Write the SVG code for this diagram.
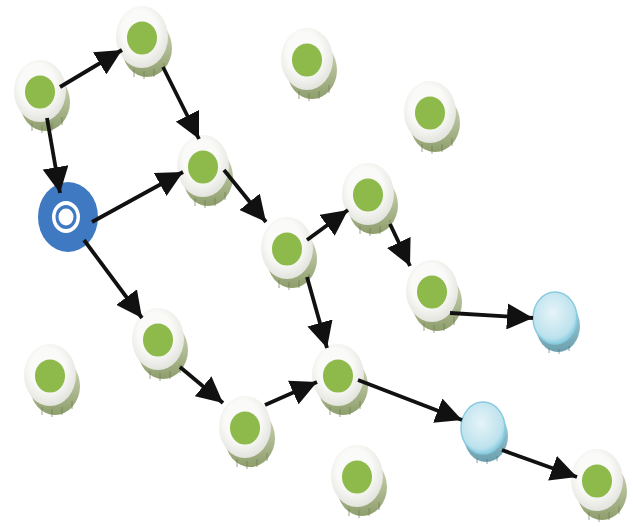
<svg xmlns="http://www.w3.org/2000/svg" xmlns:xlink="http://www.w3.org/1999/xlink" width="633" height="527" viewBox="0 0 633 527">
  <style>
    .edge { stroke: #111; stroke-width: 3.8; fill: none; marker-end: url(#arrow); }
  </style>
  <defs>
    <radialGradient id="discFace" cx="0.45" cy="0.4" r="0.6">
      <stop offset="0.55" stop-color="#fafaf8"/>
      <stop offset="1" stop-color="#e3e4de"/>
    </radialGradient>
    <linearGradient id="discSide" x1="0" y1="0" x2="0" y2="1">
      <stop offset="0" stop-color="#d4dbbf"/>
      <stop offset="1" stop-color="#8e9e6c"/>
    </linearGradient>
    <radialGradient id="cyanFace" cx="0.45" cy="0.4" r="0.65">
      <stop offset="0" stop-color="#e6f4f8"/>
      <stop offset="0.75" stop-color="#bde2ed"/>
      <stop offset="1" stop-color="#74c2da"/>
    </radialGradient>
    <linearGradient id="cyanSide" x1="0" y1="0" x2="0" y2="1">
      <stop offset="0" stop-color="#a9d6e2"/>
      <stop offset="1" stop-color="#6d9fae"/>
    </linearGradient>
    <marker id="arrow" viewBox="0 0 26 26" refX="26" refY="13" markerWidth="26" markerHeight="26" markerUnits="userSpaceOnUse" orient="auto">
      <path d="M0,0 L26,13 L0,26 z" fill="#111"/>
    </marker>
    <!-- grey-white disc with green core and olive stacked side -->
    <g id="disc">
      <ellipse cx="5" cy="10" rx="25" ry="29" fill="url(#discSide)"/>
      <path d="M-8,31 v8 M2,33 v8 M12,31 v8 M22,25 v8" stroke="#6f7c55" stroke-width="1" opacity="0.7"/>
      <ellipse cx="0" cy="-1" rx="26" ry="31" fill="url(#discFace)"/>
      <ellipse cx="0" cy="0" rx="15" ry="16.5" fill="#8dba4b"/>
    </g>
    <!-- light blue disc -->
    <g id="cyan">
      <ellipse cx="3" cy="8" rx="22" ry="26" fill="url(#cyanSide)"/>
      <path d="M-6,30 v5 M4,31 v5 M14,28 v5" stroke="#4f7d8a" stroke-width="1" opacity="0.7"/>
      <ellipse cx="0" cy="0" rx="22" ry="26" fill="url(#cyanFace)" stroke="#86cbe0" stroke-width="1.5"/>
    </g>
  </defs>

  <rect width="633" height="527" fill="#ffffff"/>

  <g id="nodes">
    <g id="nA"><use xlink:href="#disc" x="40" y="92"/></g>
    <g id="nB"><use xlink:href="#disc" x="142" y="38"/></g>
    <g id="nC"><use xlink:href="#disc" x="307" y="60"/></g>
    <g id="nD"><use xlink:href="#disc" x="430" y="113"/></g>
    <g id="nE"><use xlink:href="#disc" x="203" y="167"/></g>
    <g id="nF">
      <ellipse cx="68" cy="217" rx="30" ry="35" fill="#3f79c2"/>
      <ellipse cx="66" cy="217" rx="14" ry="16" fill="#ffffff"/>
      <ellipse cx="66" cy="217" rx="10.5" ry="12" fill="#3f79c2"/>
      <ellipse cx="66" cy="217" rx="7.5" ry="8.5" fill="#ffffff"/>
    </g>
    <g id="nG"><use xlink:href="#disc" x="368" y="195"/></g>
    <g id="nH"><use xlink:href="#disc" x="287" y="249"/></g>
    <g id="nI"><use xlink:href="#disc" x="432" y="292"/></g>
    <g id="nJ"><use xlink:href="#cyan" x="555" y="318"/></g>
    <g id="nK"><use xlink:href="#disc" x="158" y="340"/></g>
    <g id="nL"><use xlink:href="#disc" x="50" y="376"/></g>
    <g id="nM"><use xlink:href="#disc" x="338" y="376"/></g>
    <g id="nN"><use xlink:href="#disc" x="245" y="428"/></g>
    <g id="nO"><use xlink:href="#cyan" x="483" y="428"/></g>
    <g id="nP"><use xlink:href="#disc" x="357" y="477"/></g>
    <g id="nQ"><use xlink:href="#disc" x="597" y="481"/></g>
  </g>

  <g id="connectors">
    <line class="edge" x1="60" y1="87" x2="122" y2="50"/>
    <line class="edge" x1="163" y1="67" x2="199" y2="139"/>
    <line class="edge" x1="47" y1="118" x2="60" y2="193"/>
    <line class="edge" x1="92" y1="222" x2="183" y2="172"/>
    <line class="edge" x1="84" y1="240" x2="142" y2="318"/>
    <line class="edge" x1="224" y1="170" x2="266" y2="222"/>
    <line class="edge" x1="307" y1="240" x2="348" y2="210"/>
    <line class="edge" x1="390" y1="224" x2="410" y2="266"/>
    <line class="edge" x1="307" y1="277" x2="327" y2="348"/>
    <line class="edge" x1="450" y1="313" x2="533" y2="318"/>
    <line class="edge" x1="180" y1="367" x2="223" y2="403"/>
    <line class="edge" x1="265" y1="405" x2="317" y2="382"/>
    <line class="edge" x1="358" y1="380" x2="462" y2="420"/>
    <line class="edge" x1="502" y1="450" x2="577" y2="477"/>
  </g>
</svg>
